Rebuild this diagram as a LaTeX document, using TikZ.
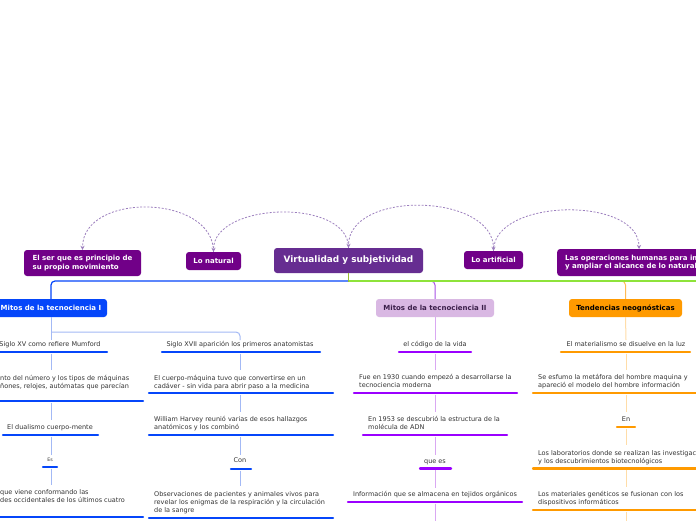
\documentclass[tikz,border=0pt]{standalone}
\usepackage{fontspec}
\setmainfont{DejaVu Sans}
\usetikzlibrary{arrows.meta}
\definecolor{topc}{HTML}{710088}
\definecolor{virtc}{HTML}{662D91}
\definecolor{blueA}{HTML}{0546FA}
\definecolor{lblue}{HTML}{A3B9F5}
\definecolor{purp}{HTML}{9B00FF}
\definecolor{mpurp}{HTML}{A852E6}
\definecolor{lpurp}{HTML}{D9A8F2}
\definecolor{mfill}{HTML}{D9B8E3}
\definecolor{mtext}{HTML}{3B1F4A}
\definecolor{orng}{HTML}{FF9A00}
\definecolor{morng}{HTML}{FFBB55}
\definecolor{lorng}{HTML}{FFDDA8}
\definecolor{greenl}{HTML}{8EE33A}
\definecolor{stubc}{HTML}{9CBB2F}
\definecolor{dashc}{HTML}{9C7FBE}
\definecolor{txtc}{HTML}{333333}
\newcommand\myst{\rule{0pt}{6pt}}
\begin{document}
\begin{tikzpicture}[x=1pt,y=-1pt,
  txt/.style={anchor=north west, inner sep=0, align=left, font=\fontsize{6.5}{8}\selectfont, text=txtc},
  ctxt/.style={anchor=base, inner sep=0, font=\fontsize{6.5}{8}\selectfont, text=txtc},
  ul/.style={line width=2.4pt, line cap=round},
  conn/.style={line width=1pt},
  mainconn/.style={line width=1.2pt, rounded corners=4pt},
  box/.style={rounded corners=3pt, inner sep=0, font=\bfseries\fontsize{7}{8.5}\selectfont, align=left},
  dsh/.style={dashc, line width=0.8pt, dash pattern=on 2pt off 1.6pt, -{Stealth[length=4pt,width=4pt]}},
]
\useasboundingbox (0,0) rectangle (696,520);
\fill[white] (0,0) rectangle (696,520);

% top row
\node[box, fill=topc, text=white, minimum width=117, minimum height=26] (elser) at (82.5,263) {El ser que es principio de\\su propio movimiento};
\node[box, fill=topc, text=white, minimum width=55, minimum height=18] (natural) at (213.5,261) {Lo natural};
\node[box, fill=virtc, text=white, font=\bfseries\fontsize{8.9}{10}\selectfont, minimum width=149, minimum height=25] (virt) at (348.5,260.5) {Virtualidad y subjetividad};
\node[box, fill=topc, text=white, minimum width=59, minimum height=18] (artif) at (493.5,260) {Lo artificial};
\node[box, fill=topc, text=white, minimum height=27, anchor=west, inner xsep=8pt] (oper) at (557,262.5) {Las operaciones humanas para im\\y ampliar el alcance de lo natural};

% dashed relations
\draw[dsh] (natural.north) .. controls +(0,-58) and +(0,-58) .. (elser.north);
\draw[dsh] (virt.north) .. controls +(0,-50) and +(0,-50) .. (natural.north);
\draw[dsh, {Stealth[length=4pt,width=4pt]}-{Stealth[length=4pt,width=4pt]}] (artif.north) .. controls +(0,-58) and +(0,-58) .. (virt.north);
\draw[dsh] (artif.north) .. controls +(0,-53) and +(0,-53) .. (639,249);

% main boxes
\node[box, fill=blueA, text=white, minimum width=112, minimum height=18] (mitosA) at (51,308) {Mitos de la tecnociencia I};
\node[box, fill=mfill, text=mtext, minimum width=118, minimum height=18] (mitosB) at (435,308) {Mitos de la tecnociencia II};
\node[box, fill=orng, text=black, minimum width=113, minimum height=18] (tend) at (625.5,308) {Tendencias neogn\'osticas};

% main connectors
\draw[mainconn, blueA] (virt.south |- 0,281) -| (mitosA.north);
\draw[mainconn, mpurp, line width=1pt] (virt.south |- 0,281) -| (mitosB.north);
\draw[mainconn, morng, line width=1pt] (virt.south |- 0,281) -| (tend.north);
\draw[line width=1.2pt, greenl] (virt.south |- 0,281) -- (700,281);
\draw[line width=1.6pt, stubc] (virt.south) -- (virt.south |- 0,281.6);

% column I left
\node[ctxt] (a1) at (50,346) {Siglo XV como refiere Mumford};
\draw[ul, blueA] (-3,352) -- (107,352);
\node[txt] (a2) at (0,374) {\myst nto del número y los tipos de máquinas\\ñones, relojes, autómatas que parecían};
\draw[ul, blueA] (-3,401) -- (143,401);
\node[ctxt] (a3) at (50,429) {El dualismo cuerpo-mente};
\draw[ul, blueA] (3,435) -- (98,435);
\node[ctxt, font=\fontsize{4.7}{5}\selectfont] (a4) at (50,461.5) {Es};
\draw[ul, blueA] (43,467) -- (57,467);
\node[txt] (a5) at (0,488) {\myst que viene conformando las\\des occidentales de los últimos cuatro};
\draw[ul, blueA] (-3,517) -- (143,517);

\draw[conn, lblue] (mitosA.south) -- (51,340);
\draw[conn, lblue] (51,353.5) -- (51,370);
\draw[conn, lblue] (51,402.5) -- (51,420);
\draw[conn, lblue] (51,436.5) -- (51,455);
\draw[conn, lblue] (51,468.5) -- (51,485);
\draw[conn, lblue, rounded corners=4pt] (51,332) -| (240,340);

% column I right
\node[ctxt] (b1) at (240,346) {Siglo XVII aparición los primeros anatomistas};
\draw[ul, blueA] (162,352) -- (320,352);
\node[txt] (b2) at (154,374) {\myst El cuerpo-máquina tuvo que convertirse en un\\cadáver - sin vida para abrir paso a la medicina};
\draw[ul, blueA] (149,393) -- (333,393);
\node[txt] (b3) at (154,415) {\myst William Harvey reunió varias de esos hallazgos\\anatómicos y los combinó};
\draw[ul, blueA] (149,435) -- (333,435);
\node[ctxt] (b4) at (240,462) {Con};
\draw[ul, blueA] (231,469) -- (251,469);
\node[txt] (b5) at (154,490) {\myst Observaciones de pacientes y animales vivos para\\revelar los enigmas de la respiración y la circulación\\de la sangre};
\draw[ul, blueA] (149,518) -- (333,518);

\draw[conn, lblue] (240,353.5) -- (240,370);
\draw[conn, lblue] (240,394.5) -- (240,412);
\draw[conn, lblue] (240,436.5) -- (240,455);
\draw[conn, lblue] (240,470.5) -- (240,486);

% column II
\node[ctxt] (c1) at (435,346) {el código de la vida};
\draw[ul, purp] (399,352) -- (471,352);
\node[txt] (c2) at (359,373) {\myst Fue en 1930 cuando empezó a desarrollarse la\\tecnociencia moderna};
\draw[ul, purp] (354,393) -- (517,393);
\node[txt] (c3) at (368,415) {\myst En 1953 se descubrió la estructura de la\\molécula de ADN};
\draw[ul, purp] (363,435) -- (507,435);
\node[ctxt] (c4) at (435,463) {que es};
\draw[ul, purp] (420,468.5) -- (451,468.5);
\node[ctxt] (c5) at (435,496) {Información que se almacena en tejidos orgánicos};
\draw[ul, purp] (348,502) -- (522,502);

\draw[conn, lpurp] (mitosB.south) -- (435,340);
\draw[conn, lpurp] (435,353.5) -- (435,370);
\draw[conn, lpurp] (435,394.5) -- (435,412);
\draw[conn, lpurp] (435,436.5) -- (435,455);
\draw[conn, lpurp] (435,470) -- (435,488);
\draw[conn, lpurp] (435,503.5) -- (435,525);

% column III
\node[ctxt] (d1) at (626,346) {El materialismo se disuelve en la luz};
\draw[ul, orng] (561,352) -- (690,352);
\node[txt] (d2) at (538,373) {\myst Se esfumo la metáfora del hombre maquina y\\apareció el modelo del hombre información};
\draw[ul, orng] (533,393) -- (700,393);
\node[ctxt] (d3) at (626,421) {En};
\draw[ul, orng] (617,427) -- (635,427);
\node[txt] (d4) at (538,449) {\myst Los laboratorios donde se realizan las investigac\\y los descubrimientos biotecnológicos};
\draw[ul, orng] (533,468.5) -- (700,468.5);
\node[txt] (d5) at (538,490) {\myst Los materiales genéticos se fusionan con los\\dispositivos informáticos};
\draw[ul, orng] (533,510) -- (700,510);

\draw[conn, lorng] (tend.south) -- (626,340);
\draw[conn, lorng] (626,353.5) -- (626,370);
\draw[conn, lorng] (626,394.5) -- (626,412);
\draw[conn, lorng] (626,428.5) -- (626,445);
\draw[conn, lorng] (626,470) -- (626,487);
\draw[conn, lorng] (626,511.5) -- (626,525);
\end{tikzpicture}
\end{document}
